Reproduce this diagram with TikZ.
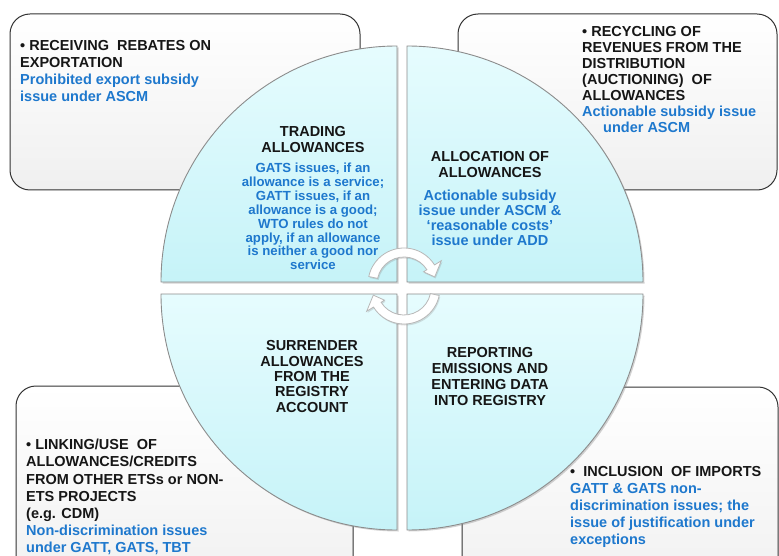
\documentclass[tikz,border=0pt]{standalone}
\usepackage{fontspec}
\setmainfont{Liberation Sans}
\usetikzlibrary{shadows,calc}
\definecolor{qtop}{RGB}{230,252,254}
\definecolor{qbot}{RGB}{198,243,248}
\definecolor{txtblue}{RGB}{30,120,205}
\definecolor{txtblack}{RGB}{22,22,22}
\begin{document}
\begin{tikzpicture}[x=1pt,y=-1pt,
  infobox/.style={rounded corners=20pt, draw=black!80, line width=1pt, top color=white, bottom color=black!6},
  quad/.style={draw=black!45, line width=0.9pt, top color=qtop, bottom color=qbot,
    drop shadow={opacity=0.35,shadow xshift=1.5pt,shadow yshift=-1.5pt}},
  cyc/.style={fill=white, draw=black!28, line width=0.8pt,
    drop shadow={opacity=0.25,shadow xshift=1pt,shadow yshift=-1.5pt}},
  hdr/.style={inner sep=0pt, align=center, text=txtblack},
  bluetxt/.style={inner sep=0pt, align=center, text=txtblue},
  boxtxt/.style={inner sep=0pt, align=left, anchor=west, text=txtblack},
]
\useasboundingbox (0,0) rectangle (779,556);

% outer information boxes
\path[infobox] (10,14) rectangle (360,190);
\path[infobox] (458,14) rectangle (777,190);
\path[infobox] (16,386) rectangle (353,600);
\path[infobox] (462,387) rectangle (778,600);

% quadrants
\path[quad] (161,282) arc[start angle=180,end angle=270,radius=236] -- (397,282) -- cycle;
\path[quad] (407,46) arc[start angle=270,end angle=360,radius=236] -- (407,282) -- cycle;
\path[quad] (643,294) arc[start angle=0,end angle=90,radius=236] -- (407,294) -- cycle;
\path[quad] (397,530) arc[start angle=90,end angle=180,radius=236] -- (397,294) -- cycle;

% cycle arrows
\coordinate (c1) at (404,284);
\coordinate (c2) at (404,288);
\path[cyc] ($(c1)+(-168:36)$) arc[start angle=-168,end angle=-32,radius=36]
  -- ($(c1)+(-32:44)$) -- ($(c1)+(-13:31.5)$) -- ($(c1)+(-32:23)$) -- ($(c1)+(-32:27)$)
  arc[start angle=-32,end angle=-168,radius=27] -- cycle;
\path[cyc] ($(c2)+(12:36)$) arc[start angle=12,end angle=148,radius=36]
  -- ($(c2)+(148:44)$) -- ($(c2)+(167:31.5)$) -- ($(c2)+(148:23)$) -- ($(c2)+(148:27)$)
  arc[start angle=148,end angle=12,radius=27] -- cycle;

% box texts
\node[boxtxt, font=\fontsize{14.5}{17}\selectfont\bfseries] (tlbox) at (20,71.5)
  {• RECEIVING\ \ REBATES ON\\EXPORTATION\\\textcolor{txtblue}{Prohibited export subsidy}\\\textcolor{txtblue}{issue under ASCM}};
\node[boxtxt, font=\fontsize{14.5}{16}\selectfont\bfseries] (trbox) at (582,80)
  {• RECYCLING OF\\REVENUES FROM THE\\DISTRIBUTION\\(AUCTIONING)\ \ OF\\ALLOWANCES\\\textcolor{txtblue}{Actionable subsidy issue}\\\hspace*{21pt}\textcolor{txtblue}{under ASCM}};
\node[boxtxt, font=\fontsize{14.5}{17.1}\selectfont\bfseries] (blbox) at (26,497)
  {• LINKING/USE\ \ OF\\ALLOWANCES/CREDITS\\FROM OTHER ETSs or NON-\\ETS PROJECTS\\(e.g. CDM)\\\textcolor{txtblue}{Non-discrimination issues}\\\textcolor{txtblue}{under GATT, GATS, TBT}};
\node[boxtxt, font=\fontsize{14.5}{17}\selectfont\bfseries] (brbox) at (570,507)
  {•\ \ INCLUSION\ \ OF IMPORTS\\\textcolor{txtblue}{GATT \& GATS non-}\\\textcolor{txtblue}{discrimination issues; the}\\\textcolor{txtblue}{issue of justification under}\\\textcolor{txtblue}{exceptions}};

% quadrant texts
\node[hdr, font=\fontsize{14.5}{15.3}\selectfont\bfseries] (tlhead) at (313,139.5) {TRADING\\ALLOWANCES};
\node[bluetxt, font=\fontsize{13.2}{13.9}\selectfont\bfseries] (tlbody) at (313,216.5)
  {GATS issues, if an\\allowance is a service;\\GATT issues, if an\\allowance is a good;\\WTO rules do not\\apply, if an allowance\\is neither a good nor\\service};
\node[hdr, font=\fontsize{14.5}{15.3}\selectfont\bfseries] (trhead) at (490,164.5) {ALLOCATION OF\\ALLOWANCES};
\node[bluetxt, font=\fontsize{14.5}{15}\selectfont\bfseries] (trbody) at (490,217.5)
  {Actionable subsidy\\issue under ASCM \&\\‘reasonable costs’\\issue under ADD};
\node[hdr, font=\fontsize{14.5}{15.3}\selectfont\bfseries] (blhead) at (312,376.5)
  {SURRENDER\\ALLOWANCES\\FROM THE\\REGISTRY\\ACCOUNT};
\node[hdr, font=\fontsize{14.5}{15.7}\selectfont\bfseries] (brhead) at (490,376.5)
  {REPORTING\\EMISSIONS AND\\ENTERING DATA\\INTO REGISTRY};
\end{tikzpicture}
\end{document}
